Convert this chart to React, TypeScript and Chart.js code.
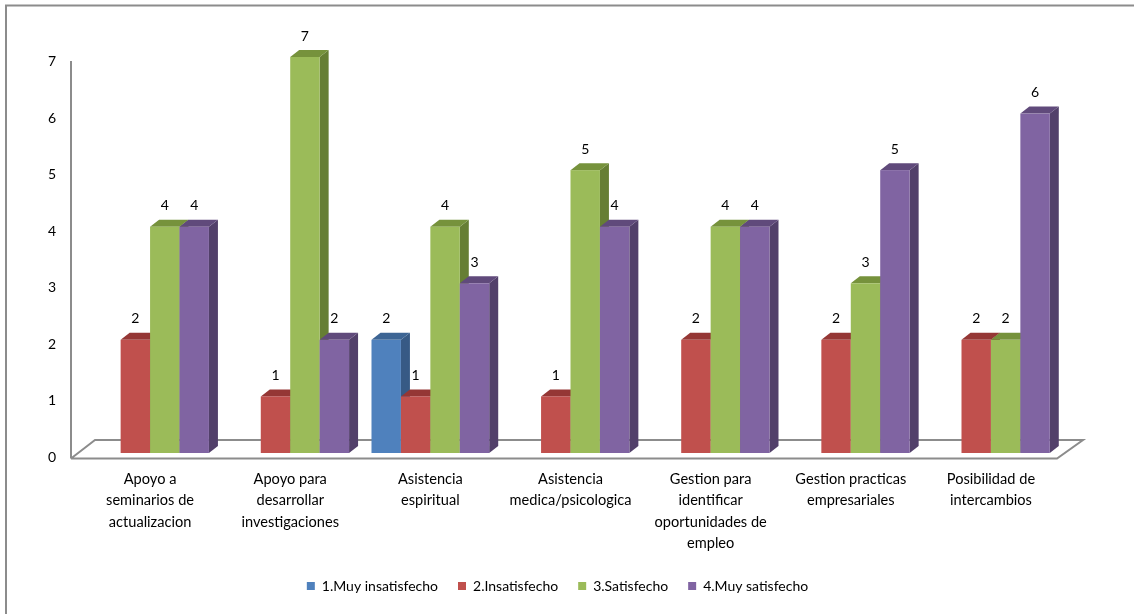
import React, { useEffect, useRef } from "react";
import { Chart, registerables } from "chart.js";

Chart.register(...registerables);

const categories: string[][] = [
  ["Apoyo a", "seminarios de", "actualizacion"],
  ["Apoyo para", "desarrollar", "investigaciones"],
  ["Asistencia", "espiritual"],
  ["Asistencia", "medica/psicologica"],
  ["Gestion para", "identificar", "oportunidades de", "empleo"],
  ["Gestion practicas", "empresariales"],
  ["Posibilidad de", "intercambios"],
];

const seriesNames = ["1.Muy insatisfecho", "2.Insatisfecho", "3.Satisfecho", "4.Muy satisfecho"];
const muyInsatisfecho: (number | null)[] = [null, null, 2, null, null, null, null];
const insatisfecho: (number | null)[] = [2, 1, 1, 1, 2, 2, 2];
const satisfecho: (number | null)[] = [4, 7, 4, 5, 4, 3, 2];
const muySatisfecho: (number | null)[] = [4, 2, 3, 4, 4, 5, 6];
const yTicks = [0, 1, 2, 3, 4, 5, 6, 7];
const yMin = 0;
const yMax = 7;

const frontColors = ["#4F81BD", "#C0504D", "#9BBB59", "#8064A2"];
const topColors = ["#3D6594", "#953735", "#76923C", "#604A7B"];
const sideColors = ["#375A85", "#833230", "#667E34", "#52406A"];

const FONT = "Lato, 'Open Sans', sans-serif";

const threeDPlugin = {
  id: "threeD",
  beforeDatasetsDraw(chart: any) {
    const ctx = chart.ctx;
    const ys = chart.scales.y;
    const y0 = ys.getPixelForValue(yMin);
    const yTop = ys.getPixelForValue(yMax);
    const left = chart.chartArea.left;
    const right = chart.chartArea.right;
    ctx.save();
    // floor + axis
    ctx.strokeStyle = "#8C8C8C";
    ctx.lineWidth = 2;
    ctx.beginPath();
    ctx.moveTo(left - 9, y0 + 5.5);
    ctx.lineTo(right - 4, y0 + 5.5);
    ctx.lineTo(right + 22, y0 - 13);
    ctx.lineTo(left + 15, y0 - 13);
    ctx.lineTo(left - 9, y0 + 5.5);
    ctx.stroke();
    ctx.beginPath();
    ctx.moveTo(left - 9, yTop + 4);
    ctx.lineTo(left - 9, y0 + 5.5);
    ctx.stroke();

    // y tick labels
    ctx.fillStyle = "#000";
    ctx.font = "14px " + FONT;
    ctx.textAlign = "right";
    ctx.textBaseline = "middle";
    yTicks.forEach((v) => {
      ctx.fillText(String(v), left - 24, ys.getPixelForValue(v) + 4.5);
    });

    // bars
    const bars: any[] = [];
    chart.data.datasets.forEach((ds: any, di: number) => {
      const meta = chart.getDatasetMeta(di);
      meta.data.forEach((el: any, i: number) => {
        const v = ds.data[i];
        if (v === null || v === undefined) return;
        bars.push({ el, di, v });
      });
    });
    bars.sort((a, b) => a.el.x - b.el.x);
    const dx = 9;
    const dy = -7;
    bars.forEach(({ el, di }) => {
      const L = el.x - el.width / 2;
      const R = el.x + el.width / 2;
      const T = el.y;
      const B = el.base;
      ctx.fillStyle = sideColors[di];
      ctx.beginPath();
      ctx.moveTo(R, T);
      ctx.lineTo(R + dx, T + dy);
      ctx.lineTo(R + dx, B + dy);
      ctx.lineTo(R, B);
      ctx.closePath();
      ctx.fill();
      ctx.fillStyle = topColors[di];
      ctx.beginPath();
      ctx.moveTo(L, T);
      ctx.lineTo(L + dx, T + dy);
      ctx.lineTo(R + dx, T + dy);
      ctx.lineTo(R, T);
      ctx.closePath();
      ctx.fill();
      ctx.fillStyle = frontColors[di];
      ctx.fillRect(L, T, R - L, B - T);
    });

    // value labels
    ctx.fillStyle = "#000";
    ctx.font = "14px " + FONT;
    ctx.textAlign = "center";
    ctx.textBaseline = "middle";
    bars.forEach(({ el, v }) => {
      ctx.fillText(String(v), el.x, el.y - 21);
    });
    ctx.restore();
    return false;
  },
  afterDraw(chart: any) {
    const ctx = chart.ctx;
    ctx.save();
    ctx.strokeStyle = "#8C8C8C";
    ctx.lineWidth = 2;
    ctx.beginPath();
    ctx.moveTo(6, 614);
    ctx.lineTo(6, 5.5);
    ctx.lineTo(1134, 5.5);
    ctx.stroke();
    ctx.restore();
  },
};

export default function App() {
  const ref = useRef<HTMLCanvasElement | null>(null);
  useEffect(() => {
    if (!ref.current) return;
    const chart = new Chart(ref.current, {
      type: "bar",
      data: {
        labels: categories as any,
        datasets: [muyInsatisfecho, insatisfecho, satisfecho, muySatisfecho].map((d, i) => ({
          label: seriesNames[i],
          data: d,
          backgroundColor: frontColors[i],
          borderWidth: 0,
          barPercentage: 1,
          categoryPercentage: 0.84,
        })),
      },
      options: {
        responsive: false,
        animation: false,
        layout: { padding: { left: 54, right: 73, top: 57, bottom: 11 } },
        plugins: {
          tooltip: { enabled: false },
          legend: {
            position: "bottom",
            labels: {
              boxWidth: 8,
              boxHeight: 8,
              padding: 20,
              color: "#000",
              font: { family: FONT, size: 14 },
            },
          },
        },
        scales: {
          x: {
            grid: { display: false, drawTicks: false },
            border: { display: false },
            ticks: {
              color: "#000",
              font: { family: FONT, size: 14.6, lineHeight: 1.48 },
              padding: 15,
              maxRotation: 0,
              autoSkip: false,
            },
            afterFit(s: any) {
              s.height = 106;
            },
          },
          y: {
            min: yMin,
            max: yMax,
            grid: { display: false, drawTicks: false },
            border: { display: false },
            ticks: { display: false, stepSize: 1 },
            afterFit(s: any) {
              s.width = 26;
            },
          },
        },
      },
      plugins: [threeDPlugin],
    });
    return () => chart.destroy();
  }, []);
  return (
    <div style={{ position: "fixed", left: 0, top: 0, width: 1134, height: 614, background: "#fff" }}>
      <canvas ref={ref} width={1134} height={614} style={{ width: 1134, height: 614, display: "block" }} />
    </div>
  );
}
